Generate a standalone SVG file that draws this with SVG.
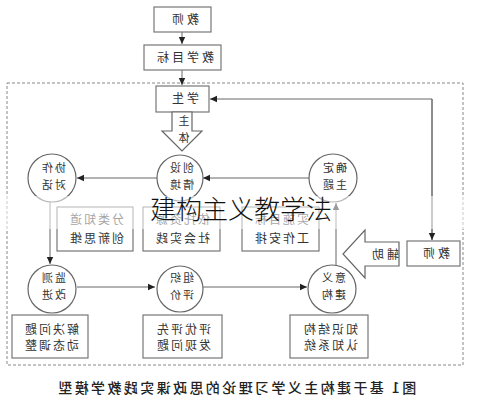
<svg xmlns="http://www.w3.org/2000/svg" width="482" height="400" viewBox="0 0 482 400">
<style>
text{font-family:"Noto Sans CJK SC","Liberation Sans",sans-serif;fill:#333;text-anchor:middle}
.box{fill:#fff;stroke:#777;stroke-width:1.2}
.cir{fill:#fff;stroke:#666;stroke-width:1.2}
.ln{fill:none;stroke:#666;stroke-width:1}
.t{font-size:12px;letter-spacing:3px}
.c{font-size:11px;letter-spacing:2px}
.b{font-size:12px;letter-spacing:2px}
</style>
<defs>
<marker id="ah" markerWidth="8" markerHeight="8" refX="7" refY="4" orient="auto" markerUnits="userSpaceOnUse">
<path d="M0,0.8 L7,4 L0,7.2 Z" fill="#222"/>
</marker>
</defs>
<rect width="482" height="400" fill="#fff"/>
<rect x="7" y="83" width="456" height="282" fill="none" stroke="#888" stroke-width="1" stroke-dasharray="3,2"/>

<g id="connectors">
<line class="ln" x1="182" y1="32" x2="182" y2="44" marker-end="url(#ah)"/>
<line class="ln" x1="182" y1="70" x2="182" y2="85" marker-end="url(#ah)"/>
<polyline class="ln" points="432,240 432,99 210,99" marker-end="url(#ah)"/>
<line class="ln" x1="432" y1="99" x2="432" y2="240" marker-end="url(#ah)"/>
<line class="ln" x1="309" y1="178" x2="203" y2="178" marker-end="url(#ah)"/>
<line class="ln" x1="158" y1="178" x2="77" y2="178" marker-end="url(#ah)"/>
<line class="ln" x1="50" y1="202" x2="50" y2="264" marker-end="url(#ah)"/>
<line class="ln" x1="77" y1="287" x2="155" y2="287" marker-end="url(#ah)"/>
<line class="ln" x1="202" y1="287" x2="307" y2="287" marker-end="url(#ah)"/>
<line class="ln" x1="336" y1="265" x2="336" y2="203" marker-end="url(#ah)"/>
</g>

<g id="n_teacher_top"><rect class="box" x="154" y="7" width="57" height="25"/><text class="t" transform="translate(184,24) scale(-1,1)">教师</text></g>
<g id="n_goal"><rect class="box" x="144" y="45" width="77" height="25"/><text class="t" transform="translate(184,62) scale(-1,1)">教学目标</text></g>
<g id="n_student"><rect class="box" x="156" y="86" width="53" height="26"/><text class="t" transform="translate(184,103) scale(-1,1)">学生</text></g>
<g id="n_subject"><polygon points="172,112 192,112 192,131 202,131 182,151 162,131 172,131" fill="#fff" stroke="#666" stroke-width="1.2"/>
<text class="c" transform="translate(183,125) scale(-1,1)">主</text><text class="c" transform="translate(183,142) scale(-1,1)">体</text></g>

<g id="n_collab"><circle class="cir" cx="52" cy="178" r="24"/><text class="c" transform="translate(53,172) scale(-1,1)">协作</text><text class="c" transform="translate(53,189) scale(-1,1)">对话</text></g>
<g id="n_create"><circle class="cir" cx="180" cy="178" r="23"/><text class="c" transform="translate(181,172) scale(-1,1)">创设</text><text class="c" transform="translate(181,189) scale(-1,1)">情境</text></g>
<g id="n_topic"><circle class="cir" cx="333" cy="178" r="24"/><text class="c" transform="translate(334,172) scale(-1,1)">确定</text><text class="c" transform="translate(334,189) scale(-1,1)">主题</text></g>

<g id="n_box1"><rect class="box" x="57" y="207" width="76" height="44"/><text class="b" transform="translate(96,224) scale(-1,1)">分类知道</text><text class="b" transform="translate(96,243) scale(-1,1)">创新思维</text></g>
<g id="n_box2"><rect class="box" x="143" y="207" width="77" height="44"/><text class="b" transform="translate(182,224) scale(-1,1)">依托资源</text><text class="b" transform="translate(182,243) scale(-1,1)">社会实践</text></g>
<g id="n_box3"><rect class="box" x="242" y="207" width="77" height="44"/><text class="b" transform="translate(281,224) scale(-1,1)">实施目标</text><text class="b" transform="translate(281,243) scale(-1,1)">工作安排</text></g>

<g id="n_assist"><polygon points="399,242 365,242 365,230 343,254 365,278 365,266 399,266" fill="#fff" stroke="#666" stroke-width="1.2"/><text class="t" transform="translate(384,259) scale(-1,1)">辅助</text></g>
<g id="n_teacher_r"><rect class="box" x="407" y="241" width="53" height="25"/><text class="t" transform="translate(435,258) scale(-1,1)">教师</text></g>

<g id="n_monitor"><circle class="cir" cx="52" cy="289" r="24"/><text class="c" transform="translate(53,282) scale(-1,1)">监测</text><text class="c" transform="translate(53,299) scale(-1,1)">改进</text></g>
<g id="n_eval"><circle class="cir" cx="180" cy="289" r="23"/><text class="c" transform="translate(181,282) scale(-1,1)">组织</text><text class="c" transform="translate(181,299) scale(-1,1)">评价</text></g>
<g id="n_meaning"><circle class="cir" cx="332" cy="289" r="24"/><text class="c" transform="translate(333,282) scale(-1,1)">意义</text><text class="c" transform="translate(333,299) scale(-1,1)">建构</text></g>

<g id="n_box4"><rect class="box" x="12" y="315" width="76" height="43"/><text class="b" transform="translate(51,334) scale(-1,1)">解决问题</text><text class="b" transform="translate(51,350) scale(-1,1)">动态调整</text></g>
<g id="n_box5"><rect class="box" x="143" y="315" width="79" height="43"/><text class="b" transform="translate(183,334) scale(-1,1)">评优评先</text><text class="b" transform="translate(183,350) scale(-1,1)">发现问题</text></g>
<g id="n_box6"><rect class="box" x="290" y="315" width="78" height="43"/><text class="b" transform="translate(330,334) scale(-1,1)">知识结构</text><text class="b" transform="translate(330,350) scale(-1,1)">认知系统</text></g>

<rect x="0" y="196" width="482" height="33" fill="#fff" opacity="0.55"/>
<text x="241" y="219" style="font-size:26px;font-weight:300;fill:#111">建构主义教学法</text>
<text transform="translate(236,393) scale(-1,1)" style="font-size:14px;font-weight:500;letter-spacing:2.4px;fill:#222">图1 基于建构主义学习理论的思政课实践教学模型</text>
</svg>
